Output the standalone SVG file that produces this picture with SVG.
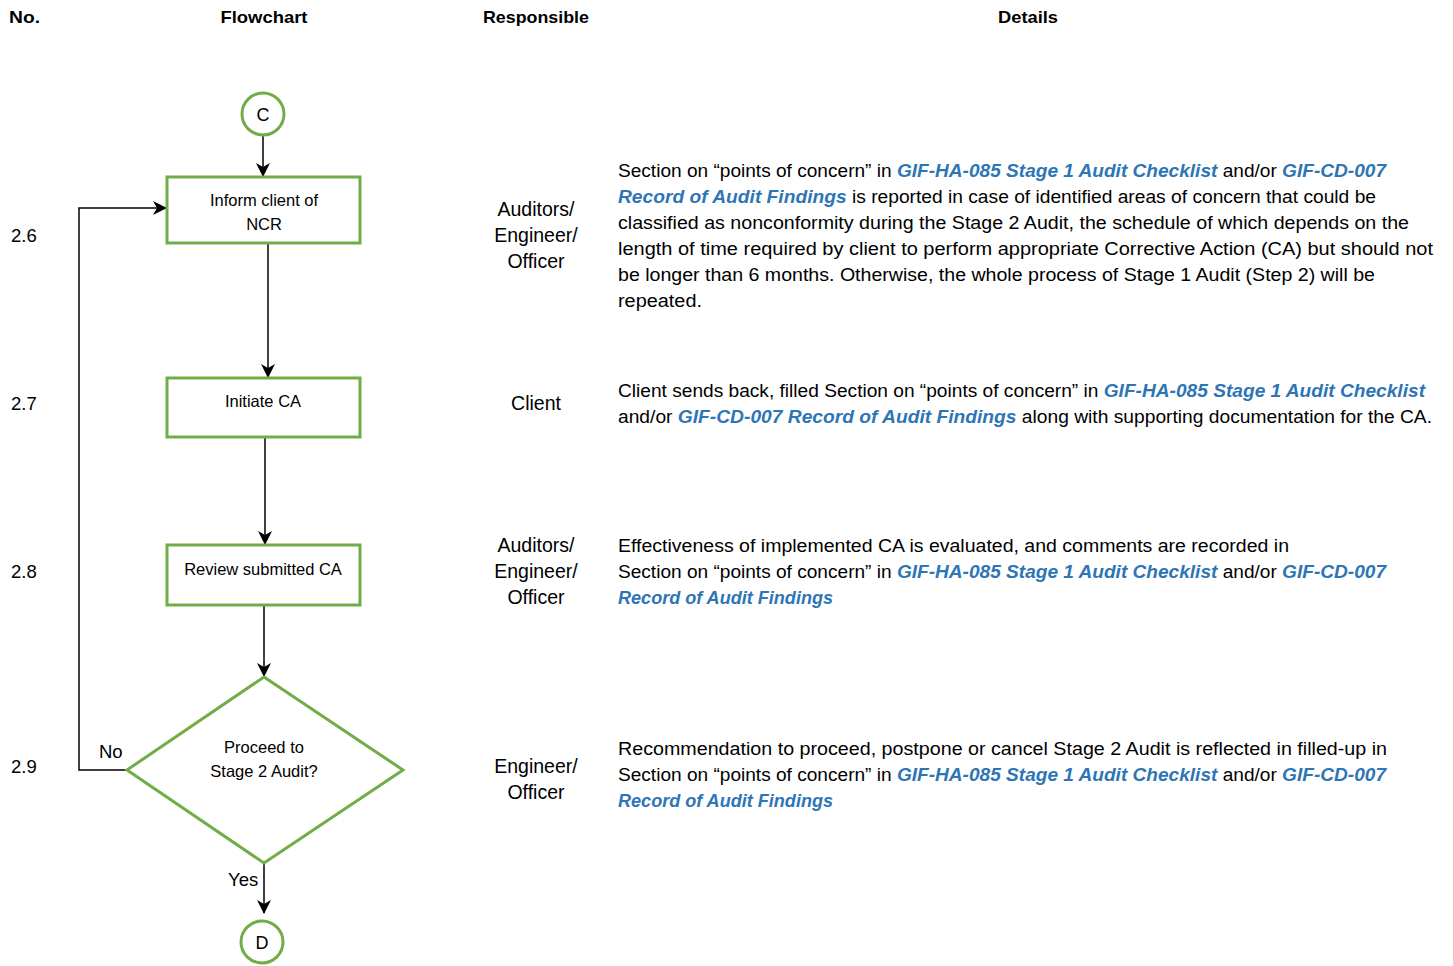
<svg xmlns="http://www.w3.org/2000/svg" width="1453" height="966" viewBox="0 0 1453 966">
  <defs>
    <marker id="arrow" viewBox="0 0 14 14" refX="13" refY="7" markerWidth="14" markerHeight="14" markerUnits="userSpaceOnUse" orient="auto">
      <path d="M0,0 L14,7 L0,14 L4,7 Z" fill="#000"/>
    </marker>
    <style>
      text { font-family: "Liberation Sans", Arial, sans-serif; fill: #000; }
      .hdr { font-size: 17px; font-weight: bold; text-anchor: middle; }
      .num { font-size: 18.5px; }
      .resp { font-size: 19.5px; text-anchor: middle; }
      .det { font-size: 17.5px; }
      .ref { font-weight: bold; font-style: italic; fill: #2e75b6; }
      .lbl { font-size: 16.5px; text-anchor: middle; }
      .conn-lbl { font-size: 18px; text-anchor: middle; }
      .edge-lbl { font-size: 18.5px; }
      .shape { fill: #fff; stroke: #70ad47; stroke-width: 3; }
      .conn { fill: none; stroke: #000; stroke-width: 1.5; }
    </style>
  </defs>
  <rect width="1453" height="966" fill="#fff"/>

  <!-- column headers -->
  <g id="headers">
    <text x="9" y="23" font-size="17" font-weight="bold" textLength="31" lengthAdjust="spacingAndGlyphs">No.</text>
    <text class="hdr" x="264" y="23" textLength="87" lengthAdjust="spacingAndGlyphs">Flowchart</text>
    <text class="hdr" x="536" y="23" textLength="106" lengthAdjust="spacingAndGlyphs">Responsible</text>
    <text class="hdr" x="1028" y="23" textLength="60" lengthAdjust="spacingAndGlyphs">Details</text>
  </g>

  <!-- step numbers -->
  <g id="step-numbers">
    <text class="num" x="11" y="242">2.6</text>
    <text class="num" x="11" y="410">2.7</text>
    <text class="num" x="11" y="578">2.8</text>
    <text class="num" x="11" y="773">2.9</text>
  </g>

  <!-- connectors -->
  <g id="connectors">
    <line class="conn" x1="263" y1="135" x2="263" y2="176" marker-end="url(#arrow)"/>
    <line class="conn" x1="268" y1="243" x2="268" y2="377" marker-end="url(#arrow)"/>
    <line class="conn" x1="265" y1="437" x2="265" y2="544" marker-end="url(#arrow)"/>
    <line class="conn" x1="264" y1="605" x2="264" y2="676" marker-end="url(#arrow)"/>
    <polyline class="conn" points="127,770 79,770 79,208 166,208" marker-end="url(#arrow)"/>
    <line class="conn" x1="264" y1="863" x2="264" y2="913" marker-end="url(#arrow)"/>
    <text class="edge-lbl" x="99" y="758">No</text>
    <text class="edge-lbl" x="228" y="886">Yes</text>
  </g>

  <!-- flowchart nodes -->
  <g id="node-c">
    <circle class="shape" cx="263" cy="114" r="21"/>
    <text class="conn-lbl" x="263" y="121">C</text>
  </g>
  <g id="node-inform">
    <rect class="shape" x="167" y="177" width="193" height="66"/>
    <text class="lbl" x="264" y="206">Inform client of</text>
    <text class="lbl" x="264" y="230">NCR</text>
  </g>
  <g id="node-initiate">
    <rect class="shape" x="167" y="378" width="193" height="59"/>
    <text class="lbl" x="263" y="407">Initiate CA</text>
  </g>
  <g id="node-review">
    <rect class="shape" x="167" y="545" width="193" height="60"/>
    <text class="lbl" x="263" y="575">Review submitted CA</text>
  </g>
  <g id="node-decision">
    <polygon class="shape" points="264,677 403,770 264,863 127,770"/>
    <text class="lbl" x="264" y="753">Proceed to</text>
    <text class="lbl" x="264" y="777">Stage 2 Audit?</text>
  </g>
  <g id="node-d">
    <circle class="shape" cx="262" cy="942" r="21"/>
    <text class="conn-lbl" x="262" y="949">D</text>
  </g>

  <!-- responsible parties -->
  <g id="responsible">
    <text class="resp" x="536" y="216">Auditors/</text>
    <text class="resp" x="536" y="242">Engineer/</text>
    <text class="resp" x="536" y="268">Officer</text>
    <text class="resp" x="536" y="410">Client</text>
    <text class="resp" x="536" y="552">Auditors/</text>
    <text class="resp" x="536" y="578">Engineer/</text>
    <text class="resp" x="536" y="604">Officer</text>
    <text class="resp" x="536" y="773">Engineer/</text>
    <text class="resp" x="536" y="799">Officer</text>
  </g>

  <!-- details -->
  <g id="details">
    <text class="det" x="618" y="177" textLength="768" lengthAdjust="spacingAndGlyphs">Section on “points of concern” in <tspan class="ref">GIF-HA-085 Stage 1 Audit Checklist</tspan> and/or <tspan class="ref">GIF-CD-007</tspan></text>
    <text class="det" x="618" y="203" textLength="758" lengthAdjust="spacingAndGlyphs"><tspan class="ref">Record of Audit Findings</tspan> is reported in case of identified areas of concern that could be</text>
    <text class="det" x="618" y="229" textLength="791" lengthAdjust="spacingAndGlyphs">classified as nonconformity during the Stage 2 Audit, the schedule of which depends on the</text>
    <text class="det" x="618" y="255" textLength="815" lengthAdjust="spacingAndGlyphs">length of time required by client to perform appropriate Corrective Action (CA) but should not</text>
    <text class="det" x="618" y="281" textLength="757" lengthAdjust="spacingAndGlyphs">be longer than 6 months. Otherwise, the whole process of Stage 1 Audit (Step 2) will be</text>
    <text class="det" x="618" y="307" textLength="84" lengthAdjust="spacingAndGlyphs">repeated.</text>

    <text class="det" x="618" y="397" textLength="807" lengthAdjust="spacingAndGlyphs">Client sends back, filled Section on “points of concern” in <tspan class="ref">GIF-HA-085 Stage 1 Audit Checklist</tspan></text>
    <text class="det" x="618" y="423" textLength="814" lengthAdjust="spacingAndGlyphs">and/or <tspan class="ref">GIF-CD-007 Record of Audit Findings</tspan> along with supporting documentation for the CA.</text>

    <text class="det" x="618" y="552" textLength="671" lengthAdjust="spacingAndGlyphs">Effectiveness of implemented CA is evaluated, and comments are recorded in</text>
    <text class="det" x="618" y="578" textLength="768" lengthAdjust="spacingAndGlyphs">Section on “points of concern” in <tspan class="ref">GIF-HA-085 Stage 1 Audit Checklist</tspan> and/or <tspan class="ref">GIF-CD-007</tspan></text>
    <text class="det" x="618" y="604" textLength="215" lengthAdjust="spacingAndGlyphs"><tspan class="ref">Record of Audit Findings</tspan></text>

    <text class="det" x="618" y="755" textLength="769" lengthAdjust="spacingAndGlyphs">Recommendation to proceed, postpone or cancel Stage 2 Audit is reflected in filled-up in</text>
    <text class="det" x="618" y="781" textLength="768" lengthAdjust="spacingAndGlyphs">Section on “points of concern” in <tspan class="ref">GIF-HA-085 Stage 1 Audit Checklist</tspan> and/or <tspan class="ref">GIF-CD-007</tspan></text>
    <text class="det" x="618" y="807" textLength="215" lengthAdjust="spacingAndGlyphs"><tspan class="ref">Record of Audit Findings</tspan></text>
  </g>
</svg>
